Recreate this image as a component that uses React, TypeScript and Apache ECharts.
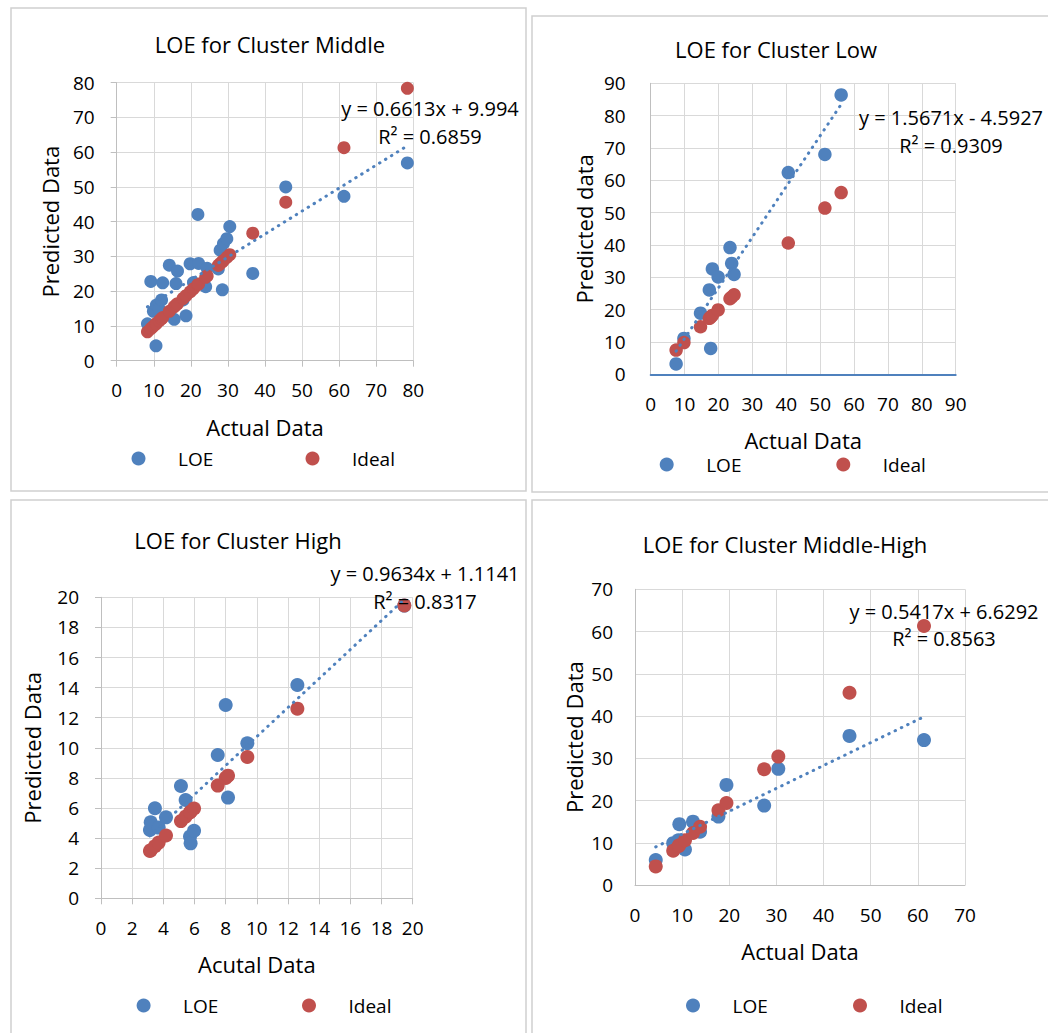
import { useEffect, useRef } from 'react';
import * as echarts from 'echarts';

// ---------- data ----------
const middleActual = [8.3, 9.2, 9.9, 10.6, 10.7, 11.5, 12.1, 12.4, 14.2, 15.5, 16.0, 16.4, 17.9, 18.7, 19.8, 20.7, 21.9, 22.1, 24.0, 24.4, 27.4, 27.9, 28.5, 28.8, 29.7, 30.5, 36.7, 45.6, 61.3, 78.4];
const middlePredicted = [10.6, 22.8, 14.2, 4.3, 16.0, 14.8, 17.5, 22.4, 27.5, 11.9, 22.2, 25.8, 17.5, 12.9, 27.9, 22.5, 42.1, 28.0, 21.3, 26.6, 26.4, 31.8, 20.4, 33.7, 35.1, 38.6, 25.1, 50.0, 47.3, 56.9];

const lowActual = [7.5, 9.8, 14.7, 17.3, 17.7, 18.2, 19.9, 23.4, 23.9, 24.6, 40.6, 51.4, 56.2];
const lowPredicted = [3.2, 11.1, 18.9, 26.1, 8.0, 32.6, 30.1, 39.2, 34.3, 30.9, 62.4, 68.0, 86.4];

const highActual = [3.14, 3.19, 3.46, 3.7, 4.17, 5.13, 5.43, 5.71, 5.75, 5.97, 7.49, 8.0, 8.15, 9.39, 12.6, 19.46];
const highPredicted = [4.54, 5.05, 5.98, 4.7, 5.38, 7.46, 6.53, 4.1, 3.65, 4.49, 9.52, 12.84, 6.69, 10.3, 14.17, 19.45];

const midHighActual = [4.4, 8.1, 9.2, 9.4, 10.6, 12.3, 13.8, 17.7, 19.4, 27.4, 30.4, 45.5, 61.3];
const midHighPredicted = [5.9, 9.9, 10.6, 14.4, 8.4, 15.0, 12.6, 16.2, 23.7, 18.8, 27.5, 35.3, 34.3];

const trendSlopes = [0.6613, 1.5671, 0.9634, 0.5417];
const trendIntercepts = [9.994, -4.5927, 1.1141, 6.6292];

const titles = ['LOE for Cluster Middle', 'LOE for Cluster Low', 'LOE for Cluster High', 'LOE for Cluster Middle-High'];
const equationLines = ['y = 0.6613x + 9.994', 'y = 1.5671x - 4.5927', 'y = 0.9634x + 1.1141', 'y = 0.5417x + 6.6292'];
const r2Lines = ['R² = 0.6859', 'R² = 0.9309', 'R² = 0.8317', 'R² = 0.8563'];
const xNames = ['Actual Data', 'Actual Data', 'Acutal Data', 'Actual Data'];
const yNames = ['Predicted Data', 'Predicted data', 'Predicted Data', 'Predicted Data'];
const axisMax = [80, 90, 20, 70];
const axisStep = [10, 10, 2, 10];
const legendNames = ['LOE', 'Ideal'];

// ---------- layout / style ----------
const FONT = "'Open Sans', 'Noto Sans', sans-serif";
const BLUE = '#4f81bd';
const RED = '#c0504d';
const GRID_C = '#d9d9d9';
const AXIS_C = '#bfbfbf';

const actualSets = [middleActual, lowActual, highActual, midHighActual];
const predictedSets = [middlePredicted, lowPredicted, highPredicted, midHighPredicted];

const layout = [
  {
    grid: { left: 116.7, top: 82.7, width: 296.6, height: 278 },
    ticks: true, xAxisColor: AXIS_C, xAxisWidth: 1, yLabelMargin: 22, symbol: 13, yNameGap: 56,
    title: [270, 44], eq: [430, 108.5], r2: [430, 136.5],
    legend: [138.5, 312.5, 456], border: [11, 8, 515, 483],
  },
  {
    grid: { left: 650.7, top: 83.3, width: 305, height: 291 },
    ticks: false, xAxisColor: BLUE, xAxisWidth: 2, yLabelMargin: 25, symbol: 13.5, yNameGap: 56,
    title: [776, 49], eq: [951, 117], r2: [951, 145.5],
    legend: [666.7, 843.3, 462], border: [532, 16, 520, 476],
  },
  {
    grid: { left: 101, top: 597.3, width: 311.7, height: 301 },
    ticks: true, xAxisColor: AXIS_C, xAxisWidth: 1, yLabelMargin: 22, symbol: 14, yNameGap: 58,
    title: [238, 540], eq: [425, 573], r2: [425, 601.5],
    legend: [143.6, 309, 1003], border: [11, 500, 515, 560],
  },
  {
    grid: { left: 635, top: 589.3, width: 330, height: 295.7 },
    ticks: false, xAxisColor: AXIS_C, xAxisWidth: 1, yLabelMargin: 22, symbol: 14, yNameGap: 50,
    title: [785, 544], eq: [944, 611.5], r2: [944, 638.5],
    legend: [693, 860, 1003], border: [532, 500, 520, 560],
  },
];

function buildOption() {
  const grid: any[] = [];
  const xAxis: any[] = [];
  const yAxis: any[] = [];
  const series: any[] = [];
  const legend: any[] = [];
  const graphic: any[] = [];

  layout.forEach((L) => {
    const [bx, by, bw, bh] = L.border;
    graphic.push({
      type: 'rect', z: -10, silent: true,
      shape: { x: bx, y: by, width: bw, height: bh },
      style: { fill: '#fff', stroke: '#d0d0d0', lineWidth: 1.5 },
    });
  });

  layout.forEach((L, i) => {
    grid.push({ ...L.grid, containLabel: false });
    const common = {
      gridIndex: i, type: 'value', min: 0, max: axisMax[i], interval: axisStep[i],
      nameLocation: 'middle',
      nameTextStyle: { fontSize: 22, color: '#000', fontFamily: FONT },
      splitLine: { show: true, lineStyle: { color: GRID_C, width: 1 } },
      axisTick: { show: L.ticks, length: 6, lineStyle: { color: AXIS_C } },
    };
    xAxis.push({
      ...common,
      name: xNames[i], nameGap: 55,
      axisLine: { show: true, onZero: false, lineStyle: { color: L.xAxisColor, width: L.xAxisWidth } },
      axisLabel: { fontSize: 19, color: '#000', margin: 20, fontFamily: FONT },
    });
    yAxis.push({
      ...common,
      name: yNames[i], nameGap: L.yNameGap, nameRotate: 90,
      axisLine: { show: true, onZero: false, lineStyle: { color: AXIS_C, width: 1 } },
      axisLabel: { fontSize: 19, color: '#000', margin: L.yLabelMargin, fontFamily: FONT },
    });

    const act = actualSets[i];
    const pred = predictedSets[i];
    series.push({
      type: 'scatter', name: 'LOE', xAxisIndex: i, yAxisIndex: i,
      data: act.map((x, j) => [x, pred[j]]),
      symbol: 'circle', symbolSize: L.symbol, itemStyle: { color: BLUE, opacity: 1 }, z: 2,
    });
    series.push({
      type: 'scatter', name: 'Ideal', xAxisIndex: i, yAxisIndex: i,
      data: act.map((x) => [x, x]),
      symbol: 'circle', symbolSize: L.symbol, itemStyle: { color: RED, opacity: 1 }, z: 3,
    });
    const xmin = Math.min(...act);
    const xmax = Math.max(...act);
    series.push({
      type: 'line', name: 'Linear (LOE)', xAxisIndex: i, yAxisIndex: i,
      data: [
        [xmin, trendSlopes[i] * xmin + trendIntercepts[i]],
        [xmax, trendSlopes[i] * xmax + trendIntercepts[i]],
      ],
      symbol: 'none', showSymbol: false, silent: true, z: 4,
      lineStyle: { color: BLUE, width: 3, type: [0.5, 6.5], cap: 'round' },
    });

    const [lx1, lx2, ly] = L.legend;
    [lx1, lx2].forEach((cx, k) => {
      legend.push({
        data: [legendNames[k]], left: cx - 7, top: ly - 7,
        itemWidth: 69, itemHeight: 14, padding: 0, icon: 'circle',
        selectedMode: false,
        textStyle: { fontSize: 19, color: '#000', fontFamily: FONT },
      });
    });

    graphic.push({
      type: 'text', x: L.title[0], y: L.title[1], silent: true,
      style: { text: titles[i], fill: '#000', font: `22px ${FONT}`, textAlign: 'center', textVerticalAlign: 'middle' },
    });
    graphic.push({
      type: 'text', x: L.eq[0], y: L.eq[1], silent: true, z: 10,
      style: { text: equationLines[i], fill: '#000', font: `20px ${FONT}`, textAlign: 'center', textVerticalAlign: 'middle' },
    });
    graphic.push({
      type: 'text', x: L.r2[0], y: L.r2[1], silent: true, z: 10,
      style: { text: r2Lines[i], fill: '#000', font: `20px ${FONT}`, textAlign: 'center', textVerticalAlign: 'middle' },
    });
  });

  return {
    animation: false,
    backgroundColor: '#ffffff',
    textStyle: { fontFamily: FONT },
    grid, xAxis, yAxis, series, legend, graphic,
  };
}

export default function App() {
  const ref = useRef<HTMLDivElement>(null);
  useEffect(() => {
    if (!ref.current) return;
    const chart = echarts.init(ref.current, null, { renderer: 'svg' });
    chart.setOption(buildOption());
    return () => chart.dispose();
  }, []);
  return (
    <div
      ref={ref}
      style={{ position: 'fixed', left: 0, top: 0, width: 1048, height: 1033, background: '#fff' }}
    />
  );
}
